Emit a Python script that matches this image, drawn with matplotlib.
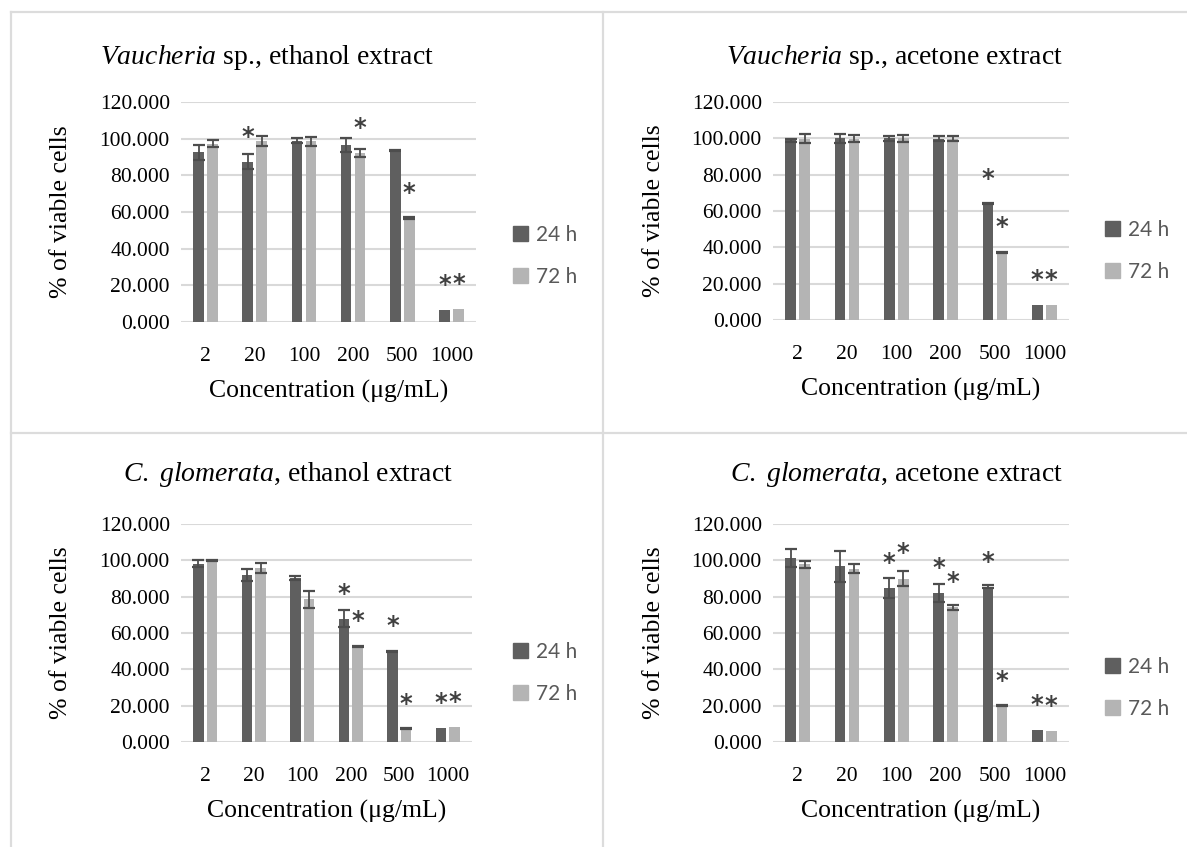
import numpy as np
import matplotlib
matplotlib.use("Agg")
import matplotlib.pyplot as plt
from matplotlib.lines import Line2D
from matplotlib.patches import Patch

plt.rcParams['font.family'] = ['Liberation Serif', 'DejaVu Serif']
plt.rcParams['mathtext.fontset'] = 'custom'
plt.rcParams['mathtext.rm'] = 'Liberation Serif'
plt.rcParams['mathtext.it'] = 'Liberation Serif:italic'

# data
concentrations = ['2', '20', '100', '200', '500', '1000']
series_names = ['24 h', '72 h']
titles = [r'$\mathit{Vaucheria}$ sp., ethanol extract',
          r'$\mathit{Vaucheria}$ sp., acetone extract',
          r'$\mathit{C.\ glomerata}$, ethanol extract',
          r'$\mathit{C.\ glomerata}$, acetone extract']

vau_eth_24 = [92.6, 87.5, 98.9, 96.7, 93.5, 6.5]
vau_eth_72 = [97.3, 98.8, 98.5, 92.2, 56.6, 7.3]
vau_eth_24_err = [4.0, 4.0, 1.3, 3.8, 0.3, 0]
vau_eth_72_err = [1.8, 2.6, 2.4, 2.0, 0.5, 0]
vau_eth_24_sig = [0, 1, 0, 0, 0, 1]
vau_eth_72_sig = [0, 0, 0, 1, 1, 1]

vau_ace_24 = [98.9, 100.1, 100.0, 99.9, 64.0, 8.5]
vau_ace_72 = [99.9, 99.9, 100.1, 99.9, 37.3, 8.1]
vau_ace_24_err = [1.0, 2.5, 1.5, 1.4, 0.3, 0]
vau_ace_72_err = [2.3, 1.7, 1.9, 1.4, 0.3, 0]
vau_ace_24_sig = [0, 0, 0, 0, 1, 1]
vau_ace_72_sig = [0, 0, 0, 0, 1, 1]

glo_eth_24 = [98.2, 91.9, 90.3, 67.9, 50.0, 7.9]
glo_eth_72 = [100.0, 95.9, 78.5, 52.6, 7.4, 8.1]
glo_eth_24_err = [2.0, 3.3, 1.3, 4.5, 0.3, 0]
glo_eth_72_err = [0.3, 2.8, 4.6, 0.3, 0.3, 0]
glo_eth_24_sig = [0, 0, 0, 1, 1, 1]
glo_eth_72_sig = [0, 0, 0, 1, 1, 1]

glo_ace_24 = [101.4, 96.7, 84.6, 82.1, 85.4, 6.6]
glo_ace_72 = [97.8, 95.5, 90.0, 74.1, 20.0, 6.2]
glo_ace_24_err = [4.9, 8.4, 5.5, 4.9, 0.8, 0]
glo_ace_72_err = [1.8, 2.5, 4.1, 1.5, 0.3, 0]
glo_ace_24_sig = [0, 0, 1, 1, 1, 1]
glo_ace_72_sig = [0, 0, 1, 1, 1, 1]

panels = [
    (vau_eth_24, vau_eth_72, vau_eth_24_err, vau_eth_72_err, vau_eth_24_sig, vau_eth_72_sig),
    (vau_ace_24, vau_ace_72, vau_ace_24_err, vau_ace_72_err, vau_ace_24_sig, vau_ace_72_sig),
    (glo_eth_24, glo_eth_72, glo_eth_24_err, glo_eth_72_err, glo_eth_24_sig, glo_eth_72_sig),
    (glo_ace_24, glo_ace_72, glo_ace_24_err, glo_ace_72_err, glo_ace_24_sig, glo_ace_72_sig),
]

# layout in pixels: left, right, top, bottom of plot area; title center; legend pos; ylabel right edge
W, H = 1187, 847
layout = [
    dict(box=(181, 476, 102, 322), title=(267, 57), leg=(503, 256), ylab=72),
    dict(box=(773, 1069, 102, 320), title=(894, 57), leg=(1095, 251), ylab=665),
    dict(box=(181, 472, 524, 742), title=(288, 474), leg=(503, 673), ylab=72),
    dict(box=(773, 1069, 524, 742), title=(897, 474), leg=(1095, 688), ylab=665),
]

dark = '#5f5f5f'
light = '#b4b4b4'
grid_c = '#d9d9d9'

fig = plt.figure(figsize=(W / 100, H / 100), dpi=100)

# table borders
for xs, ys in [((11, 11), (12, H)), ((11, W), (12, 12)),
               ((603, 603), (12, H)), ((11, W), (433, 433))]:
    fig.add_artist(Line2D([x / W for x in xs], [1 - y / H for y in ys],
                          color='#dcdcdc', lw=1.6))

x = np.arange(len(concentrations))
off = 0.142
bw = 0.217

for i, ((v24, v72, e24, e72, s24, s72), lay) in enumerate(zip(panels, layout)):
    l, r, t, b = lay['box']
    ax = fig.add_axes([l / W, 1 - b / H, (r - l) / W, (b - t) / H])
    ax.set_axisbelow(True)
    for vals, errs, sig, xo, col in [(v24, e24, s24, -off, dark), (v72, e72, s72, off, light)]:
        errs = [e if e > 0 else np.nan for e in errs]
        ax.bar(x + xo, vals, bw, color=col, yerr=errs, capsize=4.5,
               error_kw=dict(ecolor='#4d4d4d', elinewidth=1.3, capthick=1.6))
        for xi, v, s in zip(x + xo, vals, sig):
            if s:
                ax.annotate('*', (xi, v), xytext=(0, 13), textcoords='offset points',
                            ha='center', va='baseline', fontsize=17.5, color='#404040',
                            family='DejaVu Sans', fontweight='bold')
    ax.set_ylim(0, 120)
    ax.set_xlim(-0.5, 5.5)
    ax.set_yticks(np.arange(0, 121, 20))
    ax.set_yticklabels(['%.3f' % v for v in np.arange(0, 121, 20)])
    ax.set_xticks(x)
    ax.set_xticklabels(concentrations)
    ax.yaxis.grid(True, color=grid_c, lw=1.5)
    for sp in ax.spines.values():
        sp.set_visible(False)
    ax.tick_params(length=0, labelsize=15.5, pad=8)
    ax.tick_params(axis='x', pad=18)
    ax.set_xlabel('Concentration (\u03bcg/mL)', fontsize=18.5, labelpad=10)
    ax.set_ylabel('% of viable cells', fontsize=18.5)
    ax.yaxis.set_label_coords((lay['ylab'] - l) / (r - l), 0.5)
    tx, ty = lay['title']
    fig.text(tx / W, 1 - ty / H, titles[i], fontsize=20, ha='center', va='center')
    handles = [Patch(color=dark), Patch(color=light)]
    lx, ly = lay['leg']
    fig.legend(handles, series_names, loc='center left', bbox_to_anchor=(lx / W, 1 - ly / H),
               frameon=False, borderpad=0, handlelength=0.7, handleheight=0.7,
               handletextpad=0.4, labelspacing=1.05,
               prop=dict(family='Lato', size=15), labelcolor='#595959')

fig.savefig('out.png', dpi=100)
